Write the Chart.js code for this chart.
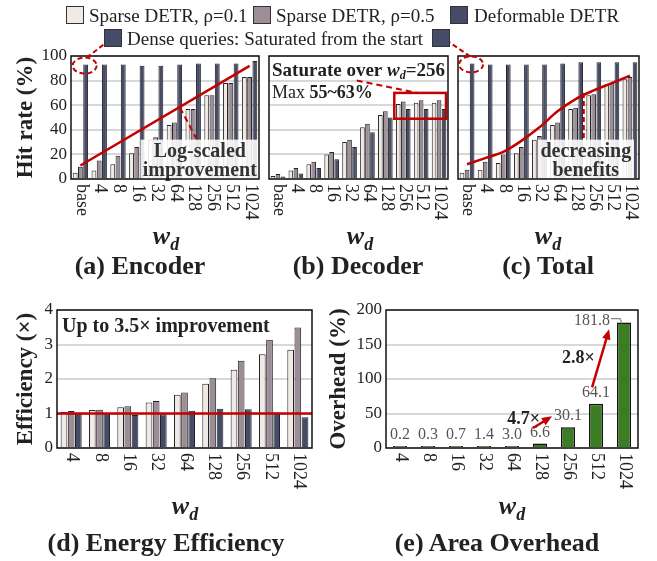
<!DOCTYPE html>
<html>
<head>
<meta charset="utf-8">
<script src="https://cdn.jsdelivr.net/npm/chart.js@4.4.1/dist/chart.umd.min.js"></script>
<style>
  body { margin: 0; background: #fff; }
  #wrap { position: relative; width: 657px; height: 561px; font-family: "Liberation Serif", "DejaVu Serif", serif; color: #222; overflow: hidden; }
  canvas { position: absolute; }
  .lg { position: absolute; font-size: 19px; line-height: 1; white-space: nowrap; z-index: 3; }
  .sw { position: absolute; width: 18px; height: 18px; border: 1px solid #333; box-sizing: border-box; z-index: 3; }
  .pt { position: absolute; font-weight: bold; font-size: 26px; line-height: 1; white-space: nowrap; transform: translateX(-50%); }
  .wd { position: absolute; font-weight: bold; font-style: italic; font-size: 26px; line-height: 1; transform: translateX(-50%); }
  .wd sub { font-size: 18px; line-height: 0; }
</style>
</head>
<body>
<div id="wrap">
  <canvas id="enc" width="265" height="190" style="left:0;top:40px"></canvas>
  <canvas id="dec" width="190" height="190" style="left:265px;top:40px"></canvas>
  <canvas id="tot" width="203" height="190" style="left:454px;top:40px"></canvas>
  <canvas id="eff" width="320" height="205" style="left:0;top:295px"></canvas>
  <canvas id="area" width="332" height="205" style="left:325px;top:295px"></canvas>
  <canvas id="over" width="657" height="561" style="left:0;top:0;z-index:2"></canvas>

  <div class="sw" style="left:66px;top:6px;background:#f1e9e5"></div>
  <div class="lg" style="left:89px;top:6px">Sparse DETR, ρ=0.1</div>
  <div class="sw" style="left:253px;top:6px;background:#9d8d97"></div>
  <div class="lg" style="left:276px;top:6px">Sparse DETR, ρ=0.5</div>
  <div class="sw" style="left:450px;top:6px;background:#464b68"></div>
  <div class="lg" style="left:474px;top:6px">Deformable DETR</div>
  <div class="sw" style="left:104px;top:29px;background:#464b68"></div>
  <div class="lg" style="left:127px;top:29px">Dense queries: Saturated from the start</div>
  <div class="sw" style="left:432px;top:29px;background:#464b68"></div>

  <div class="wd" style="left:166px;top:223px">w<sub>d</sub></div>
  <div class="wd" style="left:360px;top:223px">w<sub>d</sub></div>
  <div class="wd" style="left:548px;top:223px">w<sub>d</sub></div>
  <div class="wd" style="left:185px;top:493px">w<sub>d</sub></div>
  <div class="wd" style="left:512px;top:493px">w<sub>d</sub></div>

  <div class="pt" style="left:140px;top:253px">(a) Encoder</div>
  <div class="pt" style="left:358px;top:253px">(b) Decoder</div>
  <div class="pt" style="left:548px;top:253px">(c) Total</div>
  <div class="pt" style="left:166px;top:530px">(d) Energy Efficiency</div>
  <div class="pt" style="left:497px;top:530px">(e) Area Overhead</div>
</div>
<script>
// ---- data ----
const wdLabels = ['base', '4', '8', '16', '32', '64', '128', '256', '512', '1024'];
const effLabels = ['4', '8', '16', '32', '64', '128', '256', '512', '1024'];

const encS01 = [5, 7, 12, 21, 32, 44, 57, 68, 78, 83];
const encS05 = [10, 15, 19, 26, 34, 46, 57, 68, 78, 83];
const encDef = [93, 93, 93, 92, 92, 93, 94, 94, 94, 96];
const encTrend = [11, 92]; // straight guide: base -> 1024

const decS01 = [2.5, 7, 12, 20, 30, 42, 52, 61, 62, 62];
const decS05 = [4, 9, 14, 22, 32, 45, 55, 63, 64, 64];
const decDef = [2, 4.5, 9, 16, 26, 38, 50, 57, 57, 57];

const totS01 = [5, 7.5, 13, 21, 32, 44, 57, 68, 77, 81];
const totS05 = [7.5, 14, 20, 26, 35, 46, 58, 69, 78, 83];
const totDef = [94, 93, 93, 93, 93, 94, 95, 95, 95, 95];
const totTrend = [12, 17, 22, 31, 42, 55, 65, 72, 78, 84];

const effS01 = [1.04, 1.10, 1.18, 1.32, 1.54, 1.86, 2.27, 2.72, 2.85];
const effS05 = [1.07, 1.11, 1.21, 1.36, 1.61, 2.02, 2.53, 3.14, 3.49];
const effDef = [1.0, 1.0, 0.96, 0.98, 1.08, 1.14, 1.12, 1.03, 0.89];
const effBase = 1;

const areaPct = [0.2, 0.3, 0.7, 1.4, 3.0, 6.6, 30.1, 64.1, 181.8];

const hitTicks = [0, 20, 40, 60, 80, 100];
const effTicks = [0, 1, 2, 3, 4];
const areaTicks = [0, 50, 100, 150, 200];

// ---- style ----
const SERIF = '"Liberation Serif", "DejaVu Serif", serif';
const RED = '#c40000';
const C01 = '#f1e9e5', C05 = '#9d8d97', CDEF = '#464b68', GREEN = '#3b7d23';

function bars(label, data, color, cp, bp) {
  return { label, data, backgroundColor: color, borderColor: '#222', borderWidth: 1,
           categoryPercentage: cp, barPercentage: bp, order: 1 };
}

function seg(ctx, x0, y0, x1, y1) {
  ctx.beginPath(); ctx.moveTo(x0, y0); ctx.lineTo(x1, y1); ctx.stroke();
}

function arrow(ctx, x0, y0, x1, y1) {
  const ang = Math.atan2(y1 - y0, x1 - x0);
  ctx.beginPath(); ctx.moveTo(x0, y0);
  ctx.lineTo(x1 - 8 * Math.cos(ang), y1 - 8 * Math.sin(ang)); ctx.stroke();
  ctx.beginPath();
  ctx.moveTo(x1, y1);
  ctx.lineTo(x1 - 11 * Math.cos(ang - 0.4), y1 - 11 * Math.sin(ang - 0.4));
  ctx.lineTo(x1 - 11 * Math.cos(ang + 0.4), y1 - 11 * Math.sin(ang + 0.4));
  ctx.closePath(); ctx.fill();
}

function noteBox(ctx, x0, y0, x1, y1, lines) {
  ctx.fillStyle = 'rgba(255,255,255,0.88)';
  ctx.fillRect(x0, y0, x1 - x0, y1 - y0);
  ctx.fillStyle = '#333';
  ctx.font = 'bold 20px ' + SERIF;
  ctx.textAlign = 'center'; ctx.textBaseline = 'middle';
  lines.forEach((t, i) => ctx.fillText(t, (x0 + x1) / 2, y0 + 12 + i * 19));
}

const framePlugin = {
  id: 'frame',
  afterDraw(chart) {
    const a = chart.chartArea, ctx = chart.ctx;
    ctx.save();
    ctx.strokeStyle = '#111'; ctx.lineWidth = 1.5;
    ctx.strokeRect(a.left, a.top, a.right - a.left, a.bottom - a.top);
    ctx.restore();
  }
};

const vertTicks = {
  id: 'vertTicks',
  afterDraw(chart) {
    const x = chart.scales.x, ctx = chart.ctx;
    ctx.save();
    ctx.font = '18px ' + SERIF; ctx.fillStyle = '#222';
    ctx.textAlign = 'left'; ctx.textBaseline = 'middle';
    x.getLabels().forEach((lab, i) => {
      ctx.save();
      ctx.translate(x.getPixelForValue(i) + 1, chart.chartArea.bottom + 5);
      ctx.rotate(Math.PI / 2);
      ctx.fillText(lab, 0, 0);
      ctx.restore();
    });
    ctx.restore();
  }
};

function makeChart(id, cfg) {
  return new Chart(document.getElementById(id), {
    type: 'bar',
    data: { labels: cfg.labels, datasets: cfg.datasets },
    options: {
      responsive: false, animation: false, devicePixelRatio: 1,
      layout: { padding: cfg.pad },
      plugins: { legend: { display: false }, tooltip: { enabled: false } },
      scales: {
        x: {
          grid: { display: false }, border: { display: false }, ticks: { display: false },
          afterFit: s => { s.height = cfg.xh; }
        },
        y: {
          min: cfg.ticks[0], max: cfg.ticks[cfg.ticks.length - 1],
          grid: { color: '#d8d8d8', lineWidth: 2, drawTicks: false },
          border: { display: false },
          afterBuildTicks: s => { s.ticks = cfg.ticks.map(v => ({ value: v })); },
          ticks: { display: cfg.showTicks, font: { family: SERIF, size: 17 }, color: '#222', padding: 4 },
          title: { display: !!cfg.ytitle, text: cfg.ytitle || '', color: '#222', padding: cfg.tpad || 0,
                   font: { family: SERIF, size: 23, weight: 'bold' } },
          afterFit: s => { s.width = cfg.yw; }
        }
      }
    },
    plugins: [framePlugin, vertTicks].concat(cfg.plugins || [])
  });
}

// ---- (a) encoder ----
const encNotes = {
  id: 'encNotes',
  afterDatasetsDraw(chart) {
    const { ctx, chartArea: a, scales: { x, y } } = chart;
    ctx.save();
    ctx.strokeStyle = RED; ctx.lineWidth = 2; ctx.setLineDash([6, 4]);
    seg(ctx, x.getPixelForValue(5.3), y.getPixelForValue(58), x.getPixelForValue(6.2), y.getPixelForValue(32));
    ctx.setLineDash([]);
    noteBox(ctx, x.getPixelForValue(3.2), y.getPixelForValue(32), a.right, a.bottom, ['Log-scaled', 'improvement']);
    ctx.restore();
  }
};
const chA = makeChart('enc', {
  labels: wdLabels,
  datasets: [
    bars('Sparse DETR, ρ=0.1', encS01, C01, 0.84, 0.92),
    bars('Sparse DETR, ρ=0.5', encS05, C05, 0.84, 0.92),
    bars('Deformable DETR', encDef, CDEF, 0.84, 0.92),
    { type: 'line', data: [{ x: wdLabels[0], y: encTrend[0] }, { x: wdLabels[9], y: encTrend[1] }],
      borderColor: RED, borderWidth: 2.5, pointRadius: 0, order: 0 }
  ],
  pad: { top: 16, left: 0, right: 6, bottom: 0 }, yw: 71, xh: 51,
  ticks: hitTicks, showTicks: true, ytitle: 'Hit rate (%)', tpad: 12,
  plugins: [encNotes]
});

// ---- (b) decoder ----
const decNotes = {
  id: 'decNotes',
  afterDatasetsDraw(chart) {
    const { ctx, chartArea: a, scales: { x, y } } = chart;
    ctx.save();
    ctx.fillStyle = '#222'; ctx.textAlign = 'left'; ctx.textBaseline = 'middle';
    let px = a.left + 3; const py = a.top + 15;
    ctx.font = 'bold 19px ' + SERIF; ctx.fillText('Saturate over ', px, py);
    px += ctx.measureText('Saturate over ').width;
    ctx.font = 'bold italic 19px ' + SERIF; ctx.fillText('w', px, py);
    px += ctx.measureText('w').width;
    ctx.font = 'bold italic 12px ' + SERIF; ctx.fillText('d', px, py + 5);
    px += ctx.measureText('d').width;
    ctx.font = 'bold 19px ' + SERIF; ctx.fillText('=256', px, py);
    let mx = a.left + 3; const my = a.top + 37;
    ctx.font = '18px ' + SERIF; ctx.fillText('Max ', mx, my);
    mx += ctx.measureText('Max ').width;
    ctx.font = 'bold 18px ' + SERIF; ctx.fillText('55~63%', mx, my);

    ctx.strokeStyle = RED; ctx.lineWidth = 2.5;
    const rx0 = x.getPixelForValue(6.5), ry0 = y.getPixelForValue(70), ry1 = y.getPixelForValue(49);
    ctx.strokeRect(rx0, ry0, a.right - 2 - rx0, ry1 - ry0);
    ctx.lineWidth = 2; ctx.setLineDash([6, 4]);
    seg(ctx, x.getPixelForValue(4.4), y.getPixelForValue(80), x.getPixelForValue(7.8), ry0);
    ctx.restore();
  }
};
const chB = makeChart('dec', {
  labels: wdLabels,
  datasets: [
    bars('Sparse DETR, ρ=0.1', decS01, C01, 0.84, 0.92),
    bars('Sparse DETR, ρ=0.5', decS05, C05, 0.84, 0.92),
    bars('Deformable DETR', decDef, CDEF, 0.84, 0.92)
  ],
  pad: { top: 16, left: 4, right: 7, bottom: 0 }, yw: 0, xh: 51,
  ticks: hitTicks, showTicks: false,
  plugins: [decNotes]
});

// ---- (c) total ----
const totNotes = {
  id: 'totNotes',
  afterDatasetsDraw(chart) {
    const { ctx, chartArea: a, scales: { x, y } } = chart;
    ctx.save();
    ctx.strokeStyle = RED; ctx.lineWidth = 2; ctx.setLineDash([5, 3]);
    seg(ctx, x.getPixelForValue(6.45), y.getPixelForValue(70), x.getPixelForValue(6.45), y.getPixelForValue(32));
    ctx.setLineDash([]);
    noteBox(ctx, x.getPixelForValue(3.9), y.getPixelForValue(32), a.right - 5, a.bottom - 1, ['decreasing', 'benefits']);
    ctx.restore();
  }
};
const chC = makeChart('tot', {
  labels: wdLabels,
  datasets: [
    bars('Sparse DETR, ρ=0.1', totS01, C01, 0.84, 0.92),
    bars('Sparse DETR, ρ=0.5', totS05, C05, 0.84, 0.92),
    bars('Deformable DETR', totDef, CDEF, 0.84, 0.92),
    { type: 'line', data: totTrend, borderColor: RED, borderWidth: 2.5, pointRadius: 0,
      tension: 0.4, cubicInterpolationMode: 'monotone', order: 0 }
  ],
  pad: { top: 16, left: 4, right: 18, bottom: 0 }, yw: 0, xh: 51,
  ticks: hitTicks, showTicks: false,
  plugins: [totNotes]
});

// ---- (d) efficiency ----
const effNotes = {
  id: 'effNotes',
  afterDatasetsDraw(chart) {
    const { ctx, chartArea: a, scales: { y } } = chart;
    ctx.save();
    ctx.strokeStyle = RED; ctx.lineWidth = 2.5;
    seg(ctx, a.left, y.getPixelForValue(effBase), a.right, y.getPixelForValue(effBase));
    ctx.fillStyle = '#222'; ctx.font = 'bold 20px ' + SERIF;
    ctx.textAlign = 'left'; ctx.textBaseline = 'middle';
    ctx.fillText('Up to 3.5× improvement', a.left + 5, a.top + 17);
    ctx.restore();
  }
};
const chD = makeChart('eff', {
  labels: effLabels,
  datasets: [
    bars('Sparse DETR, ρ=0.1', effS01, C01, 0.76, 0.93),
    bars('Sparse DETR, ρ=0.5', effS05, C05, 0.76, 0.93),
    bars('Deformable DETR', effDef, CDEF, 0.76, 0.93)
  ],
  pad: { top: 15, left: 0, right: 8, bottom: 0 }, yw: 57, xh: 52,
  ticks: effTicks, showTicks: true, ytitle: 'Efficiency (×)', tpad: 12,
  plugins: [effNotes]
});

// ---- (e) area overhead ----
const areaNotes = {
  id: 'areaNotes',
  afterDatasetsDraw(chart) {
    const { ctx, scales: { x, y } } = chart;
    const pts = chart.getDatasetMeta(0).data;
    const last = pts.length - 1;
    ctx.save();
    ctx.font = '16px ' + SERIF; ctx.fillStyle = '#555'; ctx.textBaseline = 'middle';
    pts.forEach((b, i) => {
      const t = areaPct[i].toFixed(1);
      if (i === last) {
        ctx.textAlign = 'right'; ctx.fillText(t, b.x - 14, b.y - 2);
      } else {
        ctx.textAlign = 'center'; ctx.fillText(t, b.x, b.y - 11);
      }
    });
    const bl = pts[last];
    ctx.strokeStyle = '#888'; ctx.lineWidth = 1.2;
    ctx.beginPath(); ctx.moveTo(bl.x - 13, bl.y - 4); ctx.lineTo(bl.x - 4, bl.y - 4); ctx.lineTo(bl.x - 2, bl.y + 1); ctx.stroke();

    ctx.strokeStyle = RED; ctx.fillStyle = RED; ctx.lineWidth = 2.5;
    arrow(ctx, x.getPixelForValue(4.75), y.getPixelForValue(29), x.getPixelForValue(5.43), y.getPixelForValue(46));
    arrow(ctx, x.getPixelForValue(6.86), y.getPixelForValue(88), x.getPixelForValue(7.47), y.getPixelForValue(172));
    ctx.fillStyle = '#222'; ctx.font = 'bold 18px ' + SERIF; ctx.textAlign = 'right';
    ctx.fillText('4.7×', x.getPixelForValue(5.0), y.getPixelForValue(42));
    ctx.fillText('2.8×', x.getPixelForValue(6.96), y.getPixelForValue(130));
    ctx.restore();
  }
};
const chE = makeChart('area', {
  labels: effLabels,
  datasets: [
    { label: 'Overhead', data: areaPct, backgroundColor: GREEN, borderColor: '#111', borderWidth: 1.5,
      categoryPercentage: 0.5, barPercentage: 1, minBarLength: 2 }
  ],
  pad: { top: 15, left: 0, right: 19, bottom: 0 }, yw: 61, xh: 52,
  ticks: areaTicks, showTicks: true, ytitle: 'Overhead (%)', tpad: 0,
  plugins: [areaNotes]
});

// ---- overlay: "dense queries" callouts ----
(function () {
  const ctx = document.getElementById('over').getContext('2d');
  ctx.strokeStyle = RED; ctx.lineWidth = 2; ctx.setLineDash([5, 3]);
  const ba = chA.getDatasetMeta(2).data[0];
  const ax = ba.x - 1, ay = 40 + ba.y + 1;
  ctx.beginPath(); ctx.ellipse(ax, ay, 12, 8, 0, 0, Math.PI * 2); ctx.stroke();
  seg(ctx, ax + 2, ay - 8, 107, 42);
  const bc = chC.getDatasetMeta(2).data[0];
  const cx = 454 + bc.x - 1, cy = 40 + bc.y + 1;
  ctx.beginPath(); ctx.ellipse(cx, cy, 12, 8, 0, 0, Math.PI * 2); ctx.stroke();
  seg(ctx, cx - 1, cy - 8, 449, 42);
})();
</script>
</body>
</html>
